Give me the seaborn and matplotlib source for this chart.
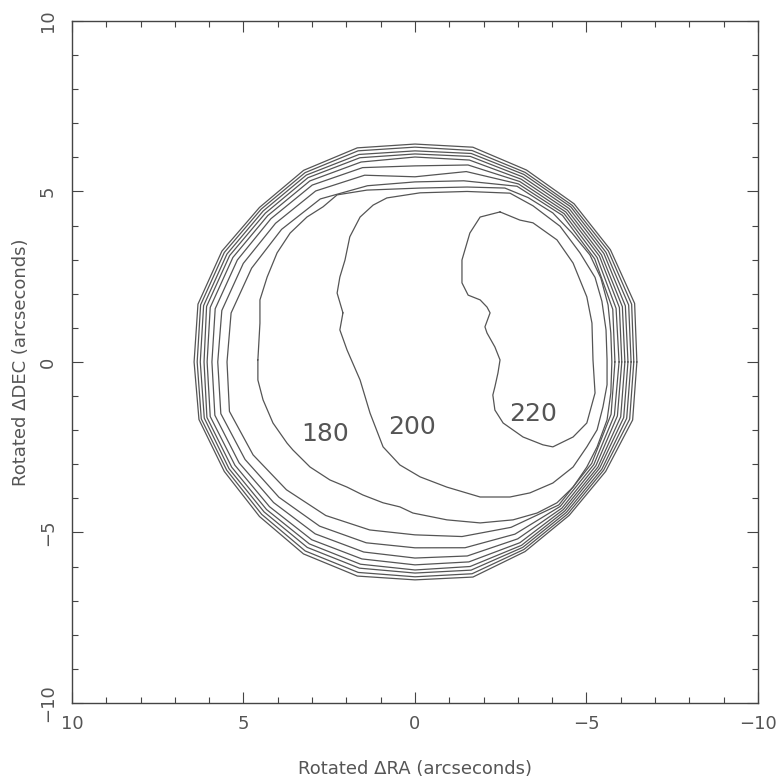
import numpy as np
import matplotlib
matplotlib.use("Agg")
import matplotlib.pyplot as plt
import seaborn as sns

# Inner contours, vertices in arcseconds (x = rotated dRA, y = rotated dDEC)
c220_x = [-2.48, -3.06, -3.44, -4.14, -4.61, -5.01, -5.16, -5.19, -5.25, -5.01, -4.61, -4.02, -3.73, -3.15,
          -2.57, -2.33, -2.27, -2.33, -2.42, -2.48, -2.33, -2.10, -2.04, -2.19, -2.10, -1.90, -1.55, -1.37,
          -1.37, -1.60, -1.90, -2.48]
c220_y = [4.40, 4.16, 4.08, 3.58, 2.90, 1.91, 1.14, 0.06, -0.91, -1.79, -2.20, -2.49, -2.43, -2.20,
          -1.79, -1.41, -0.97, -0.73, -0.32, 0.06, 0.44, 0.85, 1.03, 1.44, 1.61, 1.82, 1.96, 2.32,
          2.99, 3.78, 4.25, 4.40]

c200_x = [2.10, 2.27, 2.19, 2.04, 1.90, 1.60, 1.22, 0.82, -0.15, -1.52, -2.77, -3.44, -4.23, -4.81, -5.25,
          -5.45, -5.57, -5.60, -5.60, -5.48, -5.31, -5.01, -4.61, -4.02, -3.35, -2.77, -1.90, -0.93, -0.15,
          0.44, 0.93, 1.31, 1.60, 1.98, 2.19, 2.10]
c200_y = [1.44, 2.02, 2.49, 2.99, 3.67, 4.25, 4.60, 4.81, 4.96, 5.00, 4.95, 4.58, 3.98, 3.20, 2.48,
          1.78, 0.94, 0.06, -0.67, -1.32, -1.99, -2.49, -3.08, -3.55, -3.84, -3.96, -3.96, -3.67, -3.37,
          -3.02, -2.49, -1.50, -0.53, 0.35, 0.94, 1.44]

c180_x = [4.58, 4.58, 4.43, 4.14, 3.73, 3.56, 3.06, 2.48, 1.98, 1.52, 0.93, 0.44, 0.06, -0.93, -1.90,
          -2.86, -3.56, -4.14, -4.61, -5.01, -5.31, -5.60, -5.71, -5.74, -5.71, -5.63, -5.42, -5.10, -4.58,
          -4.02, -3.30, -2.62, -1.52, -0.15, 1.40, 2.27, 2.68, 3.15, 3.64, 4.02, 4.31, 4.52, 4.52, 4.58]
c180_y = [0.06, -0.53, -1.11, -1.79, -2.38, -2.58, -3.08, -3.46, -3.67, -3.90, -4.13, -4.25, -4.43, -4.63,
          -4.72, -4.63, -4.43, -4.13, -3.67, -3.08, -2.49, -1.70, -0.91, 0.00, 0.85, 1.67, 2.46, 3.14, 3.78,
          4.37, 4.82, 5.10, 5.13, 5.10, 5.04, 4.90, 4.55, 4.25, 3.78, 3.20, 2.49, 1.82, 1.14, 0.06]

# Limb contours: radius (arcsec) at position angles measured from +x on screen, counter-clockwise
limb_angle = [0, 15, 30, 45, 60, 75, 90, 105, 120, 135, 150, 165,
              180, 195, 210, 225, 240, 255, 270, 285, 300, 315, 330, 345]
r20 = [6.47, 6.63, 6.58, 6.56, 6.50, 6.52, 6.39, 6.50, 6.49, 6.41, 6.50, 6.55,
       6.44, 6.52, 6.42, 6.41, 6.50, 6.50, 6.39, 6.53, 6.42, 6.36, 6.42, 6.57]
r40 = [6.38, 6.54, 6.51, 6.49, 6.42, 6.42, 6.30, 6.41, 6.41, 6.34, 6.42, 6.47,
       6.35, 6.45, 6.34, 6.32, 6.40, 6.39, 6.30, 6.43, 6.35, 6.30, 6.35, 6.48]
r60 = [6.30, 6.45, 6.43, 6.43, 6.35, 6.33, 6.19, 6.30, 6.33, 6.26, 6.33, 6.38,
       6.26, 6.36, 6.26, 6.22, 6.28, 6.26, 6.19, 6.32, 6.28, 6.24, 6.29, 6.39]
r80 = [6.21, 6.35, 6.36, 6.36, 6.27, 6.24, 6.10, 6.20, 6.24, 6.17, 6.24, 6.29,
       6.15, 6.28, 6.17, 6.12, 6.16, 6.14, 6.10, 6.21, 6.21, 6.18, 6.22, 6.30]
r100 = [6.12, 6.26, 6.28, 6.29, 6.19, 6.13, 6.01, 6.07, 6.13, 6.07, 6.13, 6.18,
        6.06, 6.18, 6.06, 6.00, 6.02, 5.98, 5.95, 6.07, 6.12, 6.12, 6.16, 6.21]
r120 = [6.03, 6.17, 6.21, 6.22, 6.11, 5.98, 5.75, 5.90, 5.99, 5.94, 5.98, 6.03,
        5.92, 6.04, 5.92, 5.83, 5.82, 5.77, 5.75, 5.89, 5.99, 6.06, 6.09, 6.11]
r140 = [5.95, 6.07, 6.13, 6.15, 6.03, 5.78, 5.43, 5.67, 5.79, 5.75, 5.78, 5.83,
        5.75, 5.86, 5.72, 5.61, 5.56, 5.49, 5.45, 5.64, 5.83, 5.99, 6.02, 6.02]
r160 = [5.83, 5.97, 6.05, 6.08, 5.95, 5.50, 5.28, 5.35, 5.52, 5.50, 5.50, 5.55,
        5.48, 5.60, 5.45, 5.30, 5.20, 5.10, 5.07, 5.30, 5.60, 5.93, 5.95, 5.92]
limb_radii = [r20, r40, r60, r80, r100, r120, r140, r160]

# Level labels and where they sit (arcseconds)
label_text = ["180", "200", "220"]
label_x = [2.62, 0.09, -3.44]
label_y = [-2.11, -1.91, -1.52]

xticks = [10, 5, 0, -5, -10]
yticks = [-10, -5, 0, 5, 10]


def limb_xy(radii):
    phi = np.deg2rad(np.append(limb_angle, limb_angle[0]))
    r = np.append(radii, radii[0])
    # RA axis runs right-to-left, so screen +x is negative dRA
    return -r * np.cos(phi), r * np.sin(phi)


contours = [(c220_x, c220_y), (c200_x, c200_y), (c180_x, c180_y)]
contours += [limb_xy(r) for r in limb_radii]

sns.set_theme(style="ticks")
plt.rcParams["font.family"] = ["DejaVu Sans"]
INK = "#555555"

fig = plt.figure(figsize=(7.79, 7.79), dpi=100)
ax = fig.add_axes([0.0924, 0.0976, 0.8806, 0.8755])

for xs, ys in contours:
    sns.lineplot(x=xs, y=ys, sort=False, estimator=None, ax=ax, color=INK, linewidth=0.9)

for t, lx, ly in zip(label_text, label_x, label_y):
    ax.text(lx, ly, t, ha="center", va="center", fontsize=18, color=INK)

ax.set_xlim(10, -10)
ax.set_ylim(-10, 10)
ax.set_xticks(xticks)
ax.set_yticks(yticks)
ax.set_xticks(range(-10, 11), minor=True)
ax.set_yticks(range(-10, 11), minor=True)
ax.tick_params(which="both", direction="in", top=True, right=True, color="#444444", width=0.8)
ax.tick_params(which="major", length=8, labelsize=13, labelcolor=INK, pad=9)
ax.tick_params(which="minor", length=4)
ax.tick_params(axis="y", which="major", pad=11)
for lbl in ax.get_yticklabels():
    lbl.set_rotation(90)
    lbl.set_va("center")
for s in ax.spines.values():
    s.set_color("#444444")
    s.set_linewidth(1.0)

ax.set_xlabel("Rotated ΔRA (arcseconds)", fontsize=13, color=INK)
ax.set_ylabel("Rotated ΔDEC (arcseconds)", fontsize=13, color=INK)
ax.xaxis.set_label_coords(0.5, -0.097)
ax.yaxis.set_label_coords(-0.0743, 0.5)
ax.xaxis.label.set_va("center")
ax.yaxis.label.set_va("center")

fig.savefig("out.png", dpi=100)
